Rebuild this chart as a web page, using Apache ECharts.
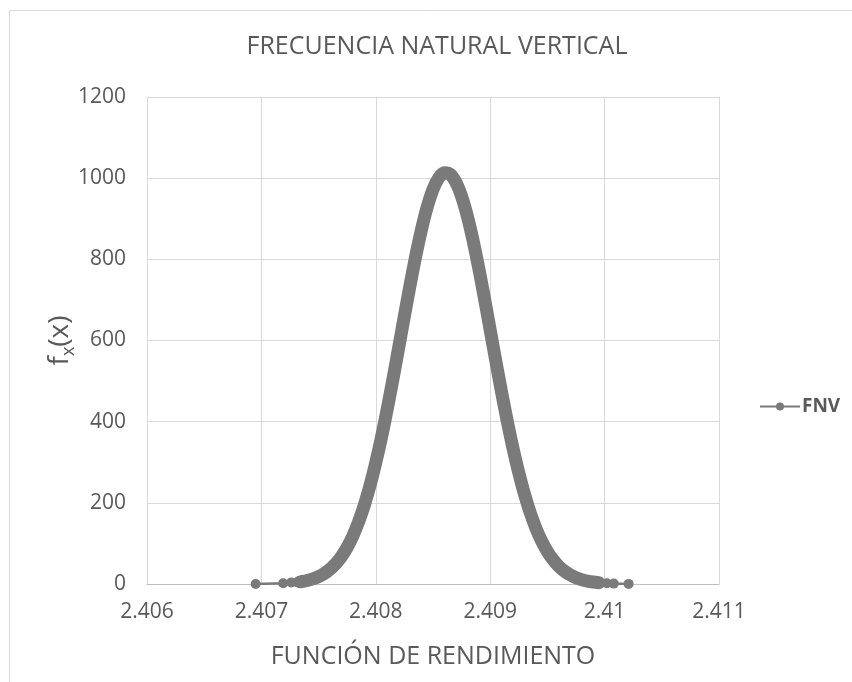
<!DOCTYPE html>
<html>
<head>
<meta charset="utf-8">
<script src="https://cdn.jsdelivr.net/npm/echarts@6/dist/echarts.min.js"></script>
<style>
html,body{margin:0;padding:0;background:#fff;}
#chart{width:852px;height:682px;}
</style>
</head>
<body>
<div id="chart"></div>
<script>
const titleText = 'FRECUENCIA NATURAL VERTICAL';
const xAxisName = 'FUNCIÓN DE RENDIMIENTO';
const seriesName = 'FNV';
const xTicks = [2.406, 2.407, 2.408, 2.409, 2.41, 2.411];
const yTicks = [0, 200, 400, 600, 800, 1000, 1200];

const xValues = [
  2.40695, 2.40719, 2.40726, 2.40731, 2.40734, 2.40736,
  2.40740, 2.40745, 2.40750, 2.40755, 2.40760, 2.40765, 2.40770, 2.40775,
  2.40780, 2.40785, 2.40790, 2.40795, 2.40800, 2.40805, 2.40810, 2.40815,
  2.40820, 2.40825, 2.40830, 2.40835, 2.40840, 2.40845, 2.40850, 2.40855,
  2.40860, 2.40865, 2.40870, 2.40875, 2.40880, 2.40885, 2.40890, 2.40895,
  2.40900, 2.40905, 2.40910, 2.40915, 2.40920, 2.40925, 2.40930, 2.40935,
  2.40940, 2.40945, 2.40950, 2.40955, 2.40960, 2.40965, 2.40970, 2.40975,
  2.40980, 2.40985, 2.40990, 2.40995, 2.41002, 2.41008, 2.41021
];
const yValues = [
  0.1, 1.9, 3.5, 4.1, 5.3, 6.2,
  8.6, 12.6, 18.2, 26.0, 36.3, 50.0, 67.8, 90.5,
  118.7, 153.2, 194.7, 243.2, 299.3, 362.0, 431.0, 505.1,
  582.1, 660.3, 736.9, 809.2, 874.3, 929.4, 972.2, 1000.6,
  1013.4, 1009.7, 990.0, 955.1, 906.5, 846.7, 778.1, 703.6,
  625.9, 548.0, 472.0, 400.0, 333.6, 273.8, 221.1, 175.5,
  137.2, 105.6, 79.9, 59.5, 43.6, 31.4, 22.3, 15.5,
  10.7, 7.2, 4.8, 3.1, 1.7, 1.0, 0.3
];

const allPoints = xValues.map((x, i) => [x, yValues[i]]);
// dense part of the curve (drawn as a thick band)
const densePoints = allPoints.filter(p => p[0] >= 2.40733 && p[0] <= 2.40996);

const textColor = '#595959';
const markColor = '#7a7a7a';
const fontFam = '"Open Sans", "Noto Sans", sans-serif';

const chart = echarts.init(document.getElementById('chart'), null, {renderer: 'canvas'});
chart.setOption({
  animation: false,
  backgroundColor: '#fff',
  graphic: [{
    type: 'rect',
    shape: {x: 9.5, y: 10.5, width: 900, height: 700},
    style: {fill: 'none', stroke: '#d9d9d9', lineWidth: 1},
    silent: true
  }],
  title: {
    text: titleText,
    left: 432,
    textAlign: 'center',
    top: 29,
    textStyle: {color: textColor, fontSize: 25, fontWeight: 'normal', fontFamily: fontFam}
  },
  legend: {
    data: [seriesName],
    orient: 'vertical',
    left: 754,
    top: 392,
    itemWidth: 40,
    itemHeight: 10,
    itemGap: 5,
    textStyle: {color: textColor, fontSize: 19, fontWeight: 'bold', fontFamily: fontFam, padding: [0, 0, 0, -3]}
  },
  grid: {left: 147, right: 133, top: 97, bottom: 98, containLabel: false},
  xAxis: {
    type: 'value',
    min: xTicks[0],
    max: xTicks[xTicks.length - 1],
    interval: 0.001,
    name: xAxisName,
    nameLocation: 'middle',
    nameGap: 60,
    nameTextStyle: {color: textColor, fontSize: 25, fontFamily: fontFam},
    axisLine: {show: true, lineStyle: {color: '#bfbfbf', width: 1}},
    axisTick: {show: false},
    axisLabel: {
      color: textColor, fontSize: 21, fontFamily: fontFam, margin: 18,
      formatter: v => String(Number(v.toFixed(3)))
    },
    splitLine: {show: true, lineStyle: {color: '#d9d9d9', width: 1}}
  },
  yAxis: {
    type: 'value',
    min: yTicks[0],
    max: yTicks[yTicks.length - 1],
    interval: 200,
    name: '{a|f}{b|x}{a|(x)}',
    nameLocation: 'middle',
    nameGap: 69,
    nameMoveOverlap: false,
    nameRotate: 90,
    nameTextStyle: {
      rich: {
        a: {color: textColor, fontSize: 28, fontFamily: fontFam, lineHeight: 36, verticalAlign: 'middle'},
        b: {color: textColor, fontSize: 18, fontFamily: fontFam, lineHeight: 36, verticalAlign: 'bottom', padding: [13, 0, 0, 0]}
      }
    },
    axisLine: {show: false},
    axisTick: {show: false},
    axisLabel: {color: textColor, fontSize: 21, fontFamily: fontFam, margin: 21, formatter: v => String(v)},
    splitLine: {show: true, lineStyle: {color: '#d9d9d9', width: 1}}
  },
  series: [
    {
      name: seriesName,
      type: 'line',
      data: allPoints,
      symbol: 'circle',
      symbolSize: 10,
      showAllSymbol: true,
      itemStyle: {color: markColor},
      lineStyle: {color: markColor, width: 2.5},
      z: 3
    },
    {
      name: 'band',
      type: 'line',
      data: densePoints,
      symbol: 'none',
      smooth: 0.3,
      lineStyle: {color: markColor, width: 13, cap: 'round', join: 'round'},
      z: 4,
      silent: true
    }
  ]
});
</script>
</body>
</html>
